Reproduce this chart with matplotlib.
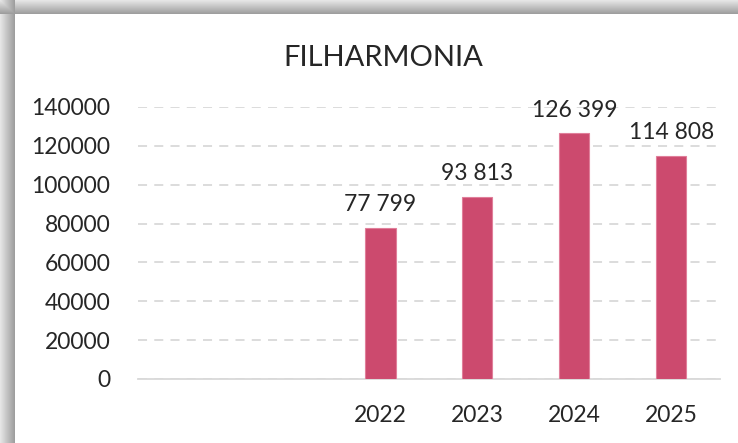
import numpy as np
import matplotlib.pyplot as plt

# chart data
categories = ["", "", "2022", "2023", "2024", "2025"]
visitors = [np.nan, np.nan, 77799, 93813, 126399, 114808]
y_ticks = [0, 20000, 40000, 60000, 80000, 100000, 120000, 140000]
title = "FILHARMONIA"

plt.rcParams['font.family'] = ['Lato', 'DejaVu Sans']

fig = plt.figure(figsize=(7.38, 4.43), dpi=100)

# shadow frame around the white panel (top and left edges)
bg = fig.add_axes([0, 0, 1, 1], zorder=0)
h, w = 443, 738
yy, xx = np.mgrid[0:h, 0:w]
top_d = np.clip((14 - yy) / 14.0, 0, 1)
left_d = np.clip((15 - xx) / 15.0, 0, 1)
shade_top = np.where(yy < 14, 0.60 + 0.30 * top_d, 1.0)
shade_left = np.where(xx < 15, 0.60 + 0.30 * left_d, 1.0)
shade = np.minimum(shade_top, shade_left)
img = np.dstack([shade, shade, shade])
bg.imshow(img, aspect='auto', interpolation='bilinear')
bg.axis('off')

ax = fig.add_axes([0.187, 0.1445, 0.7885, 0.614], zorder=1)
ax.patch.set_alpha(0)

x = np.arange(len(categories))
bars = ax.bar(x, visitors, width=0.31, color='#CC4A6E', edgecolor='#E07F9A',
              linewidth=0.8, zorder=3)

for xi, v in zip(x, visitors):
    if not np.isnan(v):
        ax.text(xi, v + 6500, f"{int(v):,}".replace(",", " "), ha='center',
                va='bottom', fontsize=16.5, color='#262626')

ax.set_xlim(-0.5, len(categories) - 0.5)
ax.set_ylim(0, 140000)
ax.set_yticks(y_ticks)
ax.set_yticklabels([str(t) for t in y_ticks])
ax.set_xticks(x)
ax.set_xticklabels(categories)
ax.tick_params(axis='both', length=0, labelsize=16.5, colors='#262626')
ax.tick_params(axis='y', pad=20)
ax.tick_params(axis='x', pad=19)

ax.grid(True, axis='y', linestyle=(0, (5, 4)), color='#D9D9D9', linewidth=1.3, zorder=0)
ax.grid(False, axis='x')
for s in ['top', 'right', 'left']:
    ax.spines[s].set_visible(False)
ax.spines['bottom'].set_color('#D9D9D9')
ax.spines['bottom'].set_linewidth(1.3)

fig.text(0.519, 0.87, title, ha='center', va='center', fontsize=21, color='#262626')

fig.savefig("out.png", dpi=100)
